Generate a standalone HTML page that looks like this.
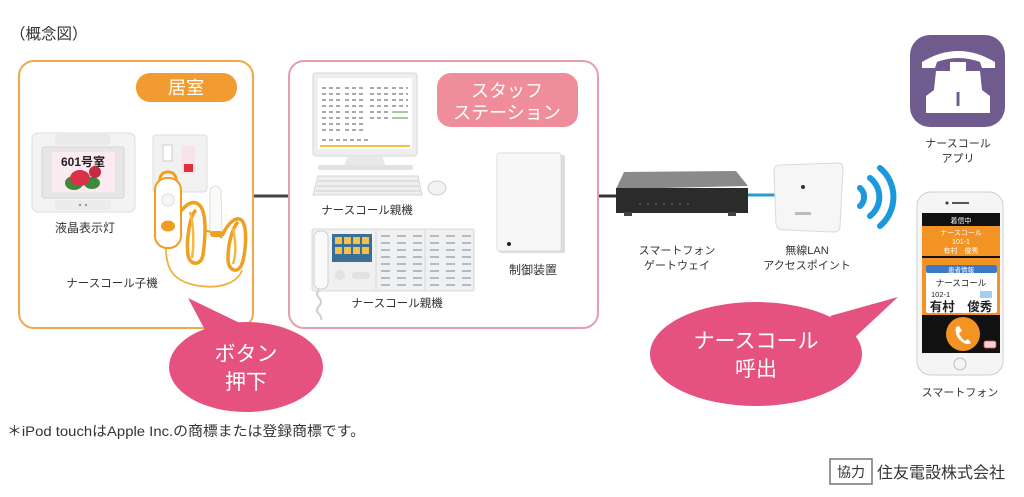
<!DOCTYPE html>
<html><head><meta charset="utf-8">
<style>
html,body{margin:0;padding:0;background:#fff;}
svg{display:block;}
text{font-family:"Liberation Sans","Noto Sans CJK JP",sans-serif;}
</style></head>
<body>
<svg width="1024" height="497" viewBox="0 0 1024 497" xmlns="http://www.w3.org/2000/svg">
<rect width="1024" height="497" fill="#fff"/>

<!-- Title -->
<text x="10" y="39" font-size="15.5" fill="#333">（概念図）</text>

<!-- connectors -->
<line x1="253" y1="196" x2="289" y2="196" stroke="#444" stroke-width="3"/>
<line x1="597" y1="196" x2="618" y2="196" stroke="#333" stroke-width="3"/>
<line x1="745" y1="195" x2="778" y2="195" stroke="#2a9ad6" stroke-width="3"/>

<!-- Left room box -->
<rect x="19" y="61" width="234" height="267" rx="15" fill="none" stroke="#eeaa48" stroke-width="2"/>
<rect x="136" y="73" width="101" height="29" rx="14" fill="#f29b30"/>
<text x="186" y="94" font-size="18" fill="#fff" text-anchor="middle">居室</text>

<!-- LCD display -->
<rect x="32" y="133" width="103" height="79" rx="6" fill="#f3f3f3" stroke="#dcdcdc"/>
<rect x="55" y="134" width="56" height="11" rx="4" fill="#e9e9e9"/>
<rect x="42" y="147" width="82" height="51" rx="2" fill="#e6e6e6" stroke="#d5d5d5"/>
<rect x="52" y="152" width="63" height="40" fill="#fbeaf0"/>
<text x="83" y="166" font-size="12" font-weight="bold" fill="#222" text-anchor="middle">601号室</text>
<ellipse cx="74" cy="183" rx="9" ry="7" fill="#3b8a3a"/>
<ellipse cx="92" cy="183" rx="8" ry="6" fill="#3b8a3a"/>
<ellipse cx="80" cy="178" rx="10" ry="8" fill="#d8324b"/>
<ellipse cx="95" cy="172" rx="6" ry="6" fill="#c82a44"/>
<rect x="55" y="200" width="56" height="10" rx="3" fill="#ececec"/>
<circle cx="80" cy="205" r="1.2" fill="#999"/><circle cx="86" cy="205" r="1.2" fill="#999"/>
<text x="85" y="232" font-size="12" fill="#333" text-anchor="middle">液晶表示灯</text>

<!-- wall plate -->
<rect x="153" y="135" width="54" height="57" rx="3" fill="#f1f1f1" stroke="#dedede"/>
<rect x="163" y="145" width="9" height="16" fill="#fff" stroke="#ccc"/>
<rect x="182" y="146" width="13" height="28" fill="#f8e4e8"/>
<rect x="184" y="164" width="9" height="8" fill="#e0303a"/>
<!-- nurse call handset & cords -->
<path d="M160 186 Q158 172 168 172 Q178 172 176 186" fill="none" stroke="#f0a020" stroke-width="3"/>
<!-- lower cord -->
<path d="M166 248 C166 268 172 282 200 286 C222 289 238 282 242 270" fill="none" stroke="#f0b040" stroke-width="1.8"/>
<!-- coil loop 1 -->
<path d="M178 215 C185 205 192 200 198 204 C208 210 205 240 203 255 C201 266 190 266 188 255 C186 240 190 215 196 210" fill="none" stroke="#eea020" stroke-width="3.5"/>
<path d="M190 212 C194 225 194 245 192 258" fill="none" stroke="#f5b840" stroke-width="2.5"/>
<!-- coil loop 2 -->
<path d="M222 236 C228 222 238 214 243 222 C248 232 245 258 241 266 C236 274 228 270 228 258 C228 245 232 228 238 222" fill="none" stroke="#eea020" stroke-width="3.5"/>
<path d="M233 228 C236 242 236 255 233 264" fill="none" stroke="#f5b840" stroke-width="2.5"/>
<path d="M204 230 C212 232 218 234 222 238" fill="none" stroke="#eea020" stroke-width="2"/>
<!-- pendant -->
<rect x="155" y="178" width="26" height="70" rx="12" fill="#fff" stroke="#f0a020" stroke-width="2"/>
<circle cx="168" cy="200" r="6" fill="#f6f6f6" stroke="#ddd"/>
<ellipse cx="168" cy="226" rx="7" ry="5.5" fill="#f29a20"/>
<!-- pear switch -->
<path d="M210 190 Q216 182 221 190 L222 230 Q216 238 210 230 Z" fill="#fafafa" stroke="#e6dccb"/>
<rect x="210" y="231" width="13" height="6" rx="3" fill="#f0a020"/>
<text x="112" y="287" font-size="11.5" fill="#333" text-anchor="middle">ナースコール子機</text>

<!-- Staff station box -->
<rect x="289" y="61" width="309" height="267" rx="15" fill="none" stroke="#e79eab" stroke-width="2"/>
<rect x="437" y="73" width="141" height="54" rx="14" fill="#ef8d9b"/>
<text x="507" y="97" font-size="18" fill="#fff" text-anchor="middle">スタッフ</text>
<text x="507" y="119" font-size="18" fill="#fff" text-anchor="middle">ステーション</text>

<!-- monitor -->
<rect x="313" y="73" width="104" height="83" rx="3" fill="#eeeeee" stroke="#d6d6d6"/>
<rect x="318" y="78" width="94" height="71" fill="#fff"/>
<g stroke="#555" stroke-width="1" stroke-dasharray="4 3">
<line x1="322" y1="88" x2="340" y2="88"/><line x1="345" y1="88" x2="365" y2="88"/><line x1="370" y1="88" x2="388" y2="88"/><line x1="392" y1="88" x2="408" y2="88"/>
<line x1="322" y1="94" x2="340" y2="94"/><line x1="345" y1="94" x2="365" y2="94"/><line x1="370" y1="94" x2="388" y2="94"/><line x1="392" y1="94" x2="408" y2="94"/>
<line x1="322" y1="100" x2="340" y2="100"/><line x1="345" y1="100" x2="365" y2="100"/><line x1="370" y1="100" x2="388" y2="100"/><line x1="392" y1="100" x2="408" y2="100"/>
<line x1="322" y1="106" x2="340" y2="106"/><line x1="345" y1="106" x2="365" y2="106"/><line x1="370" y1="106" x2="388" y2="106"/><line x1="392" y1="106" x2="408" y2="106"/>
<line x1="322" y1="112" x2="340" y2="112"/><line x1="345" y1="112" x2="365" y2="112"/><line x1="370" y1="112" x2="388" y2="112"/>
<line x1="322" y1="118" x2="340" y2="118"/><line x1="345" y1="118" x2="365" y2="118"/><line x1="370" y1="118" x2="388" y2="118"/>
<line x1="322" y1="124" x2="340" y2="124"/><line x1="345" y1="124" x2="365" y2="124"/>
<line x1="322" y1="130" x2="340" y2="130"/><line x1="345" y1="130" x2="365" y2="130"/>
<line x1="322" y1="140" x2="370" y2="140"/>
</g>
<g stroke="#4a9a4a" stroke-width="1"><line x1="392" y1="112" x2="408" y2="112"/><line x1="392" y1="118" x2="408" y2="118"/></g>
<rect x="320" y="145" width="90" height="2" fill="#f0c040"/>
<path d="M348 156 L382 156 L386 166 L344 166 Z" fill="#e8e8e8"/>
<rect x="318" y="165" width="95" height="5" rx="2" fill="#e2e2e2"/>
<path d="M318 176 L418 176 L422 195 L313 195 Z" fill="#efefef" stroke="#d4d4d4"/>
<g stroke="#cfcfcf" stroke-width="1"><line x1="318" y1="181" x2="418" y2="181"/><line x1="317" y1="186" x2="419" y2="186"/><line x1="316" y1="191" x2="420" y2="191"/></g>
<ellipse cx="437" cy="188" rx="9" ry="7" fill="#f3f3f3" stroke="#cfcfcf"/>
<text x="367" y="214" font-size="11.5" fill="#333" text-anchor="middle">ナースコール親機</text>

<!-- intercom -->
<rect x="312" y="229" width="162" height="62" rx="2" fill="#f0f0f0" stroke="#d8d8d8"/>
<rect x="314" y="231" width="14" height="58" rx="6" fill="#fafafa" stroke="#d0d0d0"/>
<rect x="332" y="234" width="40" height="28" fill="#3a6f9a"/>
<g fill="#f2c14e"><rect x="335" y="237" width="7" height="7"/><rect x="344" y="237" width="7" height="7"/><rect x="353" y="237" width="7" height="7"/><rect x="362" y="237" width="7" height="7"/>
<rect x="335" y="247" width="7" height="7"/><rect x="344" y="247" width="7" height="7"/><rect x="353" y="247" width="7" height="7"/><rect x="362" y="247" width="7" height="7"/></g>
<circle cx="340" cy="275" r="5" fill="#e2e2e2"/>
<rect x="352" y="272" width="18" height="7" rx="3" fill="#e2e2e2"/>
<line x1="376" y1="230" x2="376" y2="290" stroke="#d8d8d8"/>
<line x1="425" y1="230" x2="425" y2="290" stroke="#d8d8d8"/>
<g stroke="#8a9bb0" stroke-width="1.2" stroke-dasharray="9 7">
<line x1="381" y1="236" x2="422" y2="236"/><line x1="381" y1="243" x2="422" y2="243"/><line x1="381" y1="250" x2="422" y2="250"/><line x1="381" y1="257" x2="422" y2="257"/><line x1="381" y1="264" x2="422" y2="264"/><line x1="381" y1="271" x2="422" y2="271"/><line x1="381" y1="278" x2="422" y2="278"/><line x1="381" y1="285" x2="422" y2="285"/>
<line x1="430" y1="236" x2="471" y2="236"/><line x1="430" y1="243" x2="471" y2="243"/><line x1="430" y1="250" x2="471" y2="250"/><line x1="430" y1="257" x2="471" y2="257"/><line x1="430" y1="264" x2="471" y2="264"/><line x1="430" y1="271" x2="471" y2="271"/><line x1="430" y1="278" x2="471" y2="278"/><line x1="430" y1="285" x2="471" y2="285"/>
</g>
<path d="M319 290 q-4 4 0 8 q4 4 0 8 q-4 4 0 8 q3 3 2 6" fill="none" stroke="#cfcfcf" stroke-width="2"/>
<text x="397" y="307" font-size="11.5" fill="#333" text-anchor="middle">ナースコール親機</text>

<!-- control device -->
<rect x="499" y="155" width="66" height="98" rx="2" fill="#dcdcdc"/>
<rect x="497" y="153" width="64" height="98" rx="2" fill="#f7f7f7" stroke="#dedede"/>
<circle cx="509" cy="244" r="2" fill="#222"/>
<text x="533" y="274" font-size="12" fill="#333" text-anchor="middle">制御装置</text>

<!-- gateway -->
<path d="M624 172 L736 171 L748 186 L616 189 Z" fill="#8a8a8a"/>
<rect x="616" y="188" width="132" height="25" fill="#2b2b2b"/>
<g fill="#555"><circle cx="640" cy="204" r="1"/><circle cx="648" cy="204" r="1"/><circle cx="656" cy="204" r="1"/><circle cx="664" cy="204" r="1"/><circle cx="672" cy="204" r="1"/><circle cx="680" cy="204" r="1"/><circle cx="688" cy="204" r="1"/></g>
<rect x="624" y="212" width="8" height="4" fill="#444"/><rect x="728" y="212" width="8" height="4" fill="#444"/>
<text x="677" y="254" font-size="11" fill="#333" text-anchor="middle">スマートフォン</text>
<text x="677" y="269" font-size="11" fill="#333" text-anchor="middle">ゲートウェイ</text>

<!-- access point -->
<path d="M780 165 L838 163 Q843 163 843 169 L840 226 Q840 232 834 232 L784 230 Q777 230 776 224 L774 172 Q774 165 780 165 Z" fill="#f6f6f6" stroke="#dadada"/>
<circle cx="803" cy="187" r="2" fill="#333"/>
<rect x="795" y="212" width="16" height="3" fill="#bbb"/>
<text x="807" y="254" font-size="11" fill="#333" text-anchor="middle">無線LAN</text>
<text x="807" y="269" font-size="11" fill="#333" text-anchor="middle">アクセスポイント</text>

<!-- wifi arcs -->
<g fill="none" stroke="#1b98de" stroke-width="6" stroke-linecap="round">
<path d="M860 188 A12 12 0 0 1 860 206"/>
<path d="M870 178 A24 24 0 0 1 870 216"/>
<path d="M880 168 A38 38 0 0 1 880 226"/>
</g>

<!-- app icon -->
<rect x="910" y="35" width="95" height="92" rx="20" fill="#6f5b8e"/>
<path d="M922 62 Q958 40 995 62 L995 68 L982 68 L980 62 Q958 54 937 62 L935 68 L922 68 Z" fill="#fff"/>
<rect x="950" y="62" width="16" height="10" fill="#fff"/>
<path d="M936 71 L980 71 L982 90 L990 96 L990 113 L926 113 L926 96 L934 90 Z" fill="#fff"/>
<text x="958" y="106" font-size="20" font-family="Liberation Serif,serif" font-weight="bold" fill="#6f5b8e" text-anchor="middle">I</text>
<text x="958" y="147" font-size="11" fill="#333" text-anchor="middle">ナースコール</text>
<text x="958" y="162" font-size="11" fill="#333" text-anchor="middle">アプリ</text>

<!-- smartphone -->
<rect x="917" y="192" width="86" height="183" rx="14" fill="#f5f5f5" stroke="#cfcfcf"/>
<circle cx="947" cy="203" r="1.5" fill="#333"/>
<rect x="952" y="202" width="17" height="2" fill="#555"/>
<rect x="922" y="213" width="78" height="140" fill="#111"/>
<text x="961" y="223" font-size="7" fill="#fff" text-anchor="middle">着信中</text>
<rect x="922" y="226" width="78" height="30" fill="#f29324"/>
<text x="961" y="235" font-size="7" fill="#fff" text-anchor="middle">ナースコール</text>
<text x="961" y="244" font-size="7" fill="#fff" text-anchor="middle">101-1</text>
<text x="961" y="253" font-size="7" fill="#fff" text-anchor="middle">有村　俊秀</text>
<rect x="922" y="258" width="78" height="57" fill="#f29324"/>
<rect x="926" y="265" width="71" height="48" rx="2" fill="#fff"/>
<rect x="926" y="265" width="71" height="8" rx="2" fill="#3c78c8"/>
<text x="961" y="272" font-size="6.5" fill="#fff" text-anchor="middle">患者情報</text>
<text x="961" y="286" font-size="8.5" fill="#222" text-anchor="middle">ナースコール</text>
<text x="931" y="297" font-size="7.5" fill="#222">102-1</text>
<rect x="980" y="291" width="12" height="7" fill="#9fd0f0"/>
<text x="961" y="311" font-size="12.5" font-weight="bold" fill="#222" text-anchor="middle">有村　俊秀</text>
<circle cx="963" cy="334" r="17" fill="#f29324"/>
<path d="M956 327 q-2 8 5 14 q6 5 10 2 l-3 -4 l-3 2 q-5 -4 -6 -8 l3 -2 l-3 -5 Z" fill="#fff"/>
<rect x="984" y="341" width="12" height="7" rx="2" fill="#f4d0d0" stroke="#e05050" stroke-width="0.8"/>
<circle cx="960" cy="364" r="6" fill="none" stroke="#bbb"/>
<text x="960" y="396" font-size="11" fill="#333" text-anchor="middle">スマートフォン</text>

<!-- callout ボタン押下 -->
<path d="M188 298 L205 330 L242 324 Z" fill="#e5527f"/>
<ellipse cx="246" cy="367" rx="77" ry="45" fill="#e5527f"/>
<text x="246" y="361" font-size="21" fill="#fff" text-anchor="middle">ボタン</text>
<text x="246" y="389" font-size="21" fill="#fff" text-anchor="middle">押下</text>

<!-- callout ナースコール呼出 -->
<path d="M898 297 L830 316 L852 340 Z" fill="#e5527f"/>
<ellipse cx="756" cy="354" rx="106" ry="52" fill="#e5527f"/>
<text x="756" y="348" font-size="21" fill="#fff" text-anchor="middle">ナースコール</text>
<text x="756" y="376" font-size="21" fill="#fff" text-anchor="middle">呼出</text>

<!-- footnote -->
<text x="7" y="436" font-size="14" fill="#333" textLength="358" lengthAdjust="spacingAndGlyphs">＊iPod touchはApple Inc.の商標または登録商標です。</text>

<!-- credit -->
<rect x="830" y="459" width="42" height="25" fill="#fff" stroke="#777" stroke-width="1.5"/>
<text x="851" y="477" font-size="14" fill="#333" text-anchor="middle">協力</text>
<text x="877" y="478" font-size="16" fill="#333">住友電設株式会社</text>
</svg>
</body></html>
